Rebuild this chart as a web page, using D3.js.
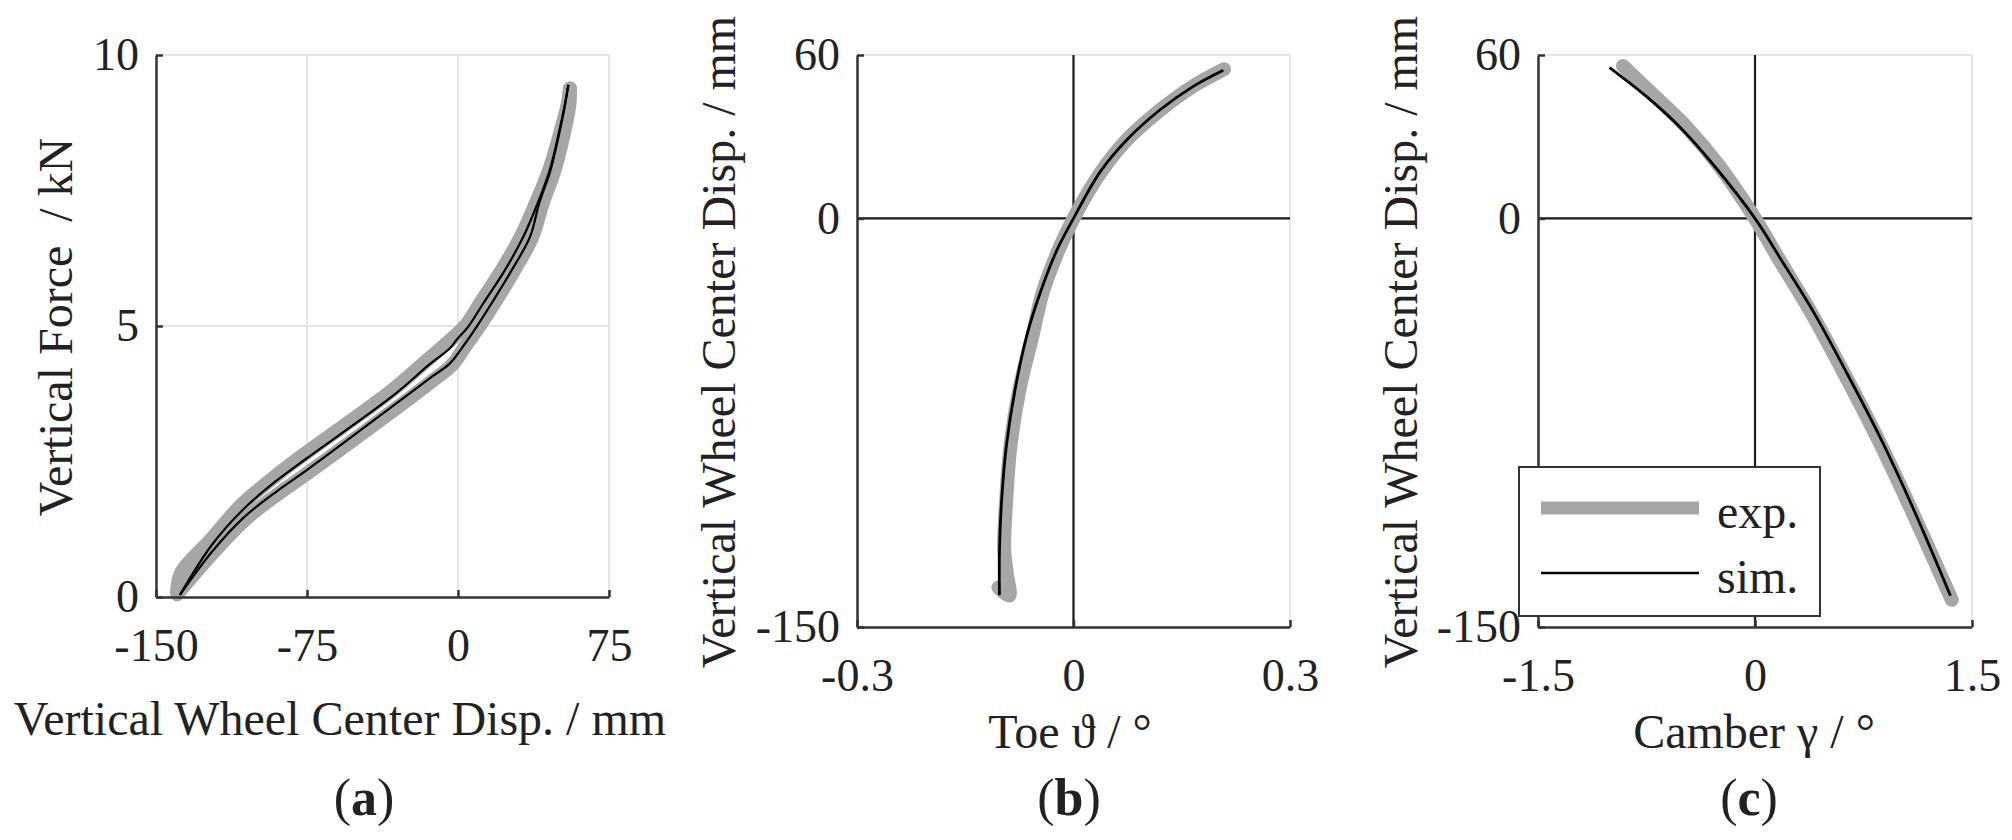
<!DOCTYPE html>
<html lang="en">
<head>
  <meta charset="UTF-8">
  <title>Suspension Kinematics</title>
  <style>
    body { margin: 0; background: #fff; }
    svg text { font-family: "Liberation Serif", "Times New Roman", serif; fill: #222; }
  </style>
</head>
<body>
  <script src="https://d3js.org/d3.v7.min.js"></script>
  <div id="chart"></div>
  <script>

    // (a) vertical force over wheel center displacement (two branches each)
    let forceTicks = [0, 5, 10];
    let dispTicks = [-150, -75, 0, 75];
    let simUpperDisp  = [-138.1, -122.3, -106.6, -90, -75.1, -32.1, -13.9, -4, -0.6, 5.1, 12.6, 23.3, 32.5, 39.5, 45.6, 51.5, 53.2, 54.8];
    let simUpperForce = [0.04, 0.96, 1.62, 2.15, 2.56, 3.72, 4.30, 4.59, 4.75, 4.99, 5.42, 6.03, 6.65, 7.26, 7.88, 8.80, 9.11, 9.45];
    let simLowerDisp  = [-138.1, -122.3, -106.6, -90, -75.1, -32.1, -13.9, -4, 2.6, 9.3, 16.7, 26.7, 35.8, 40.3, 46, 51.7, 53.3, 54.8];
    let simLowerForce = [0.04, 0.83, 1.46, 1.95, 2.34, 3.53, 4.04, 4.31, 4.63, 4.99, 5.42, 6.03, 6.65, 7.26, 7.88, 8.80, 9.11, 9.45];
    let expUpperDisp  = [-139.5, -137.5, -123, -107.5, -91, -76.5, -33.5, -15, -4.5, 4, 11.5, 22, 31.5, 38.8, 45.5, 52.5, 54.5, 55.6];
    let expUpperForce = [0.1, 0.45, 1.05, 1.7, 2.22, 2.63, 3.79, 4.38, 4.72, 5.02, 5.45, 6.05, 6.67, 7.28, 7.9, 8.8, 9.1, 9.38];
    let expLowerDisp  = [-139.5, -122, -106, -89.5, -74.5, -31.5, -13, -3, 3.5, 10.5, 18, 28, 37, 42, 48, 54, 55.4, 55.6];
    let expLowerForce = [0.05, 0.8, 1.42, 1.9, 2.29, 3.46, 3.98, 4.28, 4.62, 4.99, 5.42, 6.03, 6.65, 7.26, 7.88, 8.8, 9.11, 9.38];

    // (b) toe over wheel center displacement
    let toeTicks = [-0.3, 0, 0.3];
    let wheelTicks = [-150, 0, 60];
    let simToe     = [0.2076, 0.166, 0.120, 0.0737, 0.0367, 0, -0.0233, -0.0464, -0.0649, -0.0810, -0.0926, -0.0993, -0.1026, -0.1026];
    let simToeDisp = [54.4, 48.5, 39.9, 28.8, 17.0, 0, -11.8, -27.5, -43.2, -62.9, -82.6, -102.3, -121.9, -138.3];
    let expToe     = [0.2085, 0.166, 0.121, 0.0745, 0.038, 0, -0.021, -0.043, -0.057, -0.075, -0.087, -0.093, -0.096, -0.092, -0.089, -0.104];
    let expToeDisp = [54.8, 48.6, 40.0, 29.0, 17.0, 0, -11.8, -27.5, -43.2, -62.9, -82.6, -102.3, -121.9, -131, -138.5, -135.5];

    // (c) camber over wheel center displacement
    let camberTicks = [-1.5, 0, 1.5];
    let simCamber     = [-1.005, -0.751, -0.520, -0.289, 0, 0.173, 0.404, 0.635, 0.866, 1.097, 1.351];
    let simCamberDisp = [55.4, 44.8, 33.6, 19.8, 0, -14.5, -34.3, -56.8, -80.5, -106.9, -138.5];
    let expCamber     = [-0.913, -0.700, -0.474, -0.255, 0, 0.160, 0.385, 0.615, 0.845, 1.080, 1.360];
    let expCamberDisp = [56.0, 45.2, 33.6, 19.8, 0, -14.5, -34.3, -56.8, -80.5, -106.9, -140.0];

    let legendKeys = ["exp.", "sim."];

    let expColor = "#a6a6a6", simColor = "#000", axisColor = "#333", gridColor = "#dedede";

    function translate(x, y) { return 'translate(' + x + ',' + y + ')'; }
    function pairs(xs, ys) { return xs.map((v, i) => [v, ys[i]]); }

    let svg = d3.select("#chart")
      .append("svg")
        .attr("width", 2012)
        .attr("height", 840);

    svg.append("rect").attr("width", 2012).attr("height", 840).attr("fill", "#fff");

    function draw_panel(p) {
      let x = d3.scaleLinear().domain(d3.extent(p.xTicks)).range(p.xRange);
      let y = d3.scaleLinear().domain(d3.extent(p.yTicks)).range(p.yRange);
      let g = svg.append("g");

      // grid at every tick except the axis itself
      p.xTicks.slice(1).forEach(t => {
        g.append("line")
          .attr("x1", x(t)).attr("x2", x(t))
          .attr("y1", p.yRange[0]).attr("y2", p.yRange[1])
          .attr("stroke", gridColor).attr("stroke-width", 1.5);
      });
      p.yTicks.slice(1).forEach(t => {
        g.append("line")
          .attr("x1", p.xRange[0]).attr("x2", p.xRange[1])
          .attr("y1", y(t)).attr("y2", y(t))
          .attr("stroke", gridColor).attr("stroke-width", 1.5);
      });

      if (p.zeroLines) {
        g.append("line")
          .attr("x1", x(0)).attr("x2", x(0))
          .attr("y1", p.yRange[0]).attr("y2", p.yRange[1])
          .attr("stroke", "#1a1a1a").attr("stroke-width", 2.2);
        g.append("line")
          .attr("x1", p.xRange[0]).attr("x2", p.xRange[1])
          .attr("y1", y(0)).attr("y2", y(0))
          .attr("stroke", "#1a1a1a").attr("stroke-width", 2.2);
      }

      let line = d3.line()
        .x(d => x(d[0]))
        .y(d => y(d[1]))
        .curve(d3.curveCatmullRom.alpha(0.5));

      p.exp.forEach(s => {
        g.append("path")
          .datum(s)
          .attr("fill", "none")
          .attr("stroke", expColor)
          .attr("stroke-width", 14)
          .attr("stroke-linecap", "round")
          .attr("stroke-linejoin", "round")
          .attr("d", line);
      });
      p.sim.forEach(s => {
        g.append("path")
          .datum(s)
          .attr("fill", "none")
          .attr("stroke", simColor)
          .attr("stroke-width", p.simWidth)
          .attr("d", line);
      });

      // axes, ticks pointing inwards
      let xAxis = g.append("g")
        .attr("transform", translate(0, p.yRange[0]))
        .call(d3.axisBottom(x).tickValues(p.xTicks).tickFormat(d => String(d))
          .tickSizeInner(-7).tickSizeOuter(0).tickPadding(31));
      let yAxis = g.append("g")
        .attr("transform", translate(p.xRange[0], 0))
        .call(d3.axisLeft(y).tickValues(p.yTicks).tickFormat(d => String(d))
          .tickSizeInner(-7).tickSizeOuter(0).tickPadding(17));

      [xAxis, yAxis].forEach(a => {
        a.attr("color", axisColor).attr("font-family", null).attr("font-size", 46);
        a.selectAll("path, line").attr("stroke-width", 2.5);
        a.selectAll("text").style("fill", "#222");
      });

      // axis labels
      g.append("text")
        .attr("x", p.xLabelPos[0]).attr("y", p.xLabelPos[1])
        .attr("text-anchor", "middle")
        .style("font-size", "48px")
        .text(p.xLabel);

      g.append("text")
        .attr("transform", translate(p.yLabelPos[0], p.yLabelPos[1]) + " rotate(-90)")
        .attr("text-anchor", "middle")
        .style("font-size", "48px")
        .style("white-space", "pre")
        .text(p.yLabel);

      // caption
      let cap = g.append("text")
        .attr("x", p.captionPos[0]).attr("y", p.captionPos[1])
        .attr("text-anchor", "middle")
        .style("font-size", "52px");
      cap.append("tspan").text("(");
      cap.append("tspan").style("font-weight", "bold").text(p.caption);
      cap.append("tspan").text(")");
    }

    draw_panel({
      xTicks: dispTicks, yTicks: forceTicks,
      xRange: [156, 609], yRange: [597, 55],
      exp: [pairs(expUpperDisp, expUpperForce), pairs(expLowerDisp, expLowerForce)],
      sim: [pairs(simUpperDisp, simUpperForce), pairs(simLowerDisp, simLowerForce)],
      simWidth: 2.2, zeroLines: false,
      xLabel: "Vertical Wheel Center Disp. / mm", xLabelPos: [340, 735],
      yLabel: "Vertical Force  / kN", yLabelPos: [72, 327],
      caption: "a", captionPos: [364, 815]
    });

    draw_panel({
      xTicks: toeTicks, yTicks: wheelTicks,
      xRange: [857, 1290], yRange: [627, 55],
      exp: [pairs(expToe, expToeDisp)],
      sim: [pairs(simToe, simToeDisp)],
      simWidth: 2.8, zeroLines: true,
      xLabel: "Toe \u03d1 / \u00b0", xLabelPos: [1070, 748],
      yLabel: "Vertical Wheel Center Disp. / mm", yLabelPos: [735, 342],
      caption: "b", captionPos: [1069, 815]
    });

    draw_panel({
      xTicks: camberTicks, yTicks: wheelTicks,
      xRange: [1538, 1972], yRange: [627, 55],
      exp: [pairs(expCamber, expCamberDisp)],
      sim: [pairs(simCamber, simCamberDisp)],
      simWidth: 2.8, zeroLines: true,
      xLabel: "Camber \u03b3 / \u00b0", xLabelPos: [1754, 748],
      yLabel: "Vertical Wheel Center Disp. / mm", yLabelPos: [1417, 342],
      caption: "c", captionPos: [1749, 815]
    });

    // legend (inside panel c, covering the axes)
    let legend = svg.append("g").attr("transform", translate(1519, 467));

    legend.append("rect")
      .attr("width", 301).attr("height", 149)
      .attr("fill", "#fff")
      .attr("stroke", axisColor).attr("stroke-width", 2);

    legend.append("line")
      .attr("x1", 22).attr("x2", 180).attr("y1", 41).attr("y2", 41)
      .attr("stroke", expColor).attr("stroke-width", 13);

    legend.append("line")
      .attr("x1", 22).attr("x2", 180).attr("y1", 106).attr("y2", 106)
      .attr("stroke", simColor).attr("stroke-width", 2.5);

    legendKeys.forEach((k, i) => {
      legend.append("text")
        .attr("x", 198).attr("y", 61 + i * 65)
        .style("font-size", "48px")
        .text(k);
    });

  </script>
</body>
</html>
